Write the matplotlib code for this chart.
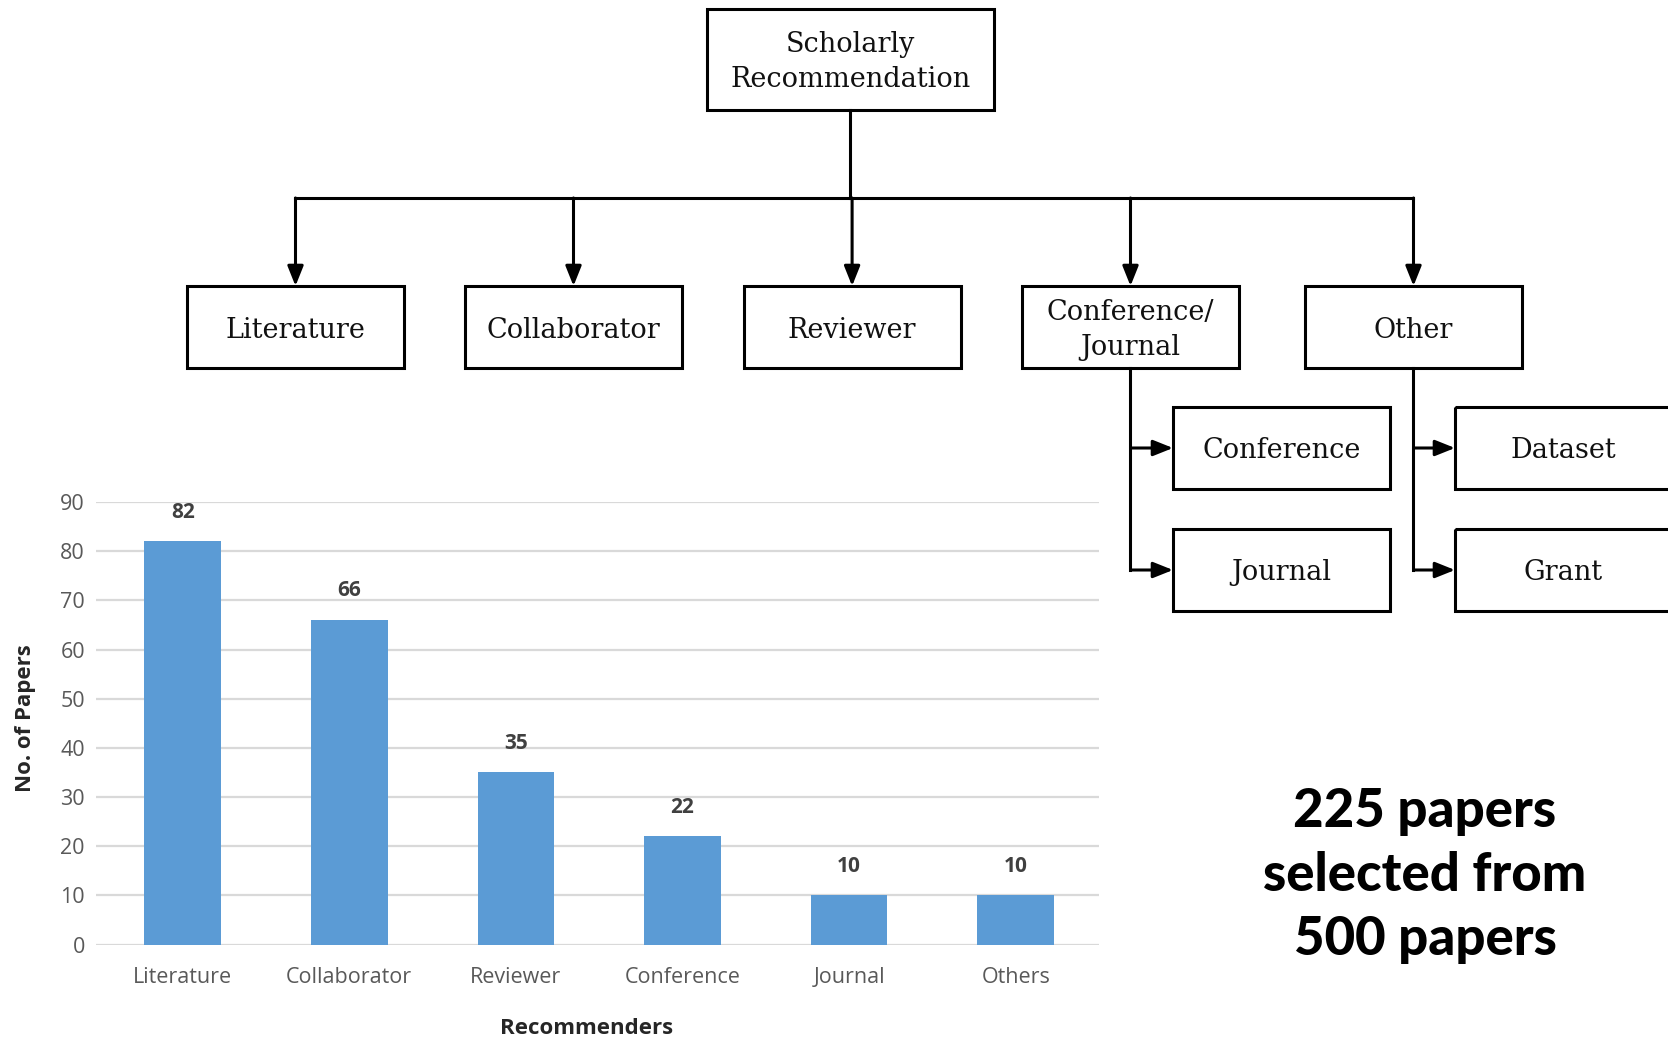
import matplotlib
matplotlib.use("Agg")
import matplotlib.pyplot as plt
from matplotlib.patches import Rectangle

# ---- bar chart data ----
categories = ["Literature", "Collaborator", "Reviewer", "Conference", "Journal", "Others"]
paper_counts = [82, 66, 35, 22, 10, 10]
y_ticks = [0, 10, 20, 30, 40, 50, 60, 70, 80, 90]
x_title = "Recommenders"
y_title = "No. of Papers"

# ---- taxonomy tree labels ----
root_label = "Scholarly\nRecommendation"
level1_labels = ["Literature", "Collaborator", "Reviewer", "Conference/\nJournal", "Other"]
venue_children = ["Conference", "Journal"]
other_children = ["Dataset", "Grant"]
summary_lines = ["225 papers", "selected from", "500 papers"]

BAR_BLUE = "#5B9BD5"
GRID_GREY = "#D9D9D9"
TICK_GREY = "#595959"

W, H = 1668, 1038
fig = plt.figure(figsize=(W / 100, H / 100), dpi=100)
fig.patch.set_facecolor("white")

plt.rcParams["font.family"] = ["Open Sans", "DejaVu Sans"]

# ---------------- bar chart ----------------
ax = fig.add_axes([96 / W, 1 - 944.6 / H, (1099 - 96) / W, (944.6 - 502) / H])
xpos = list(range(len(categories)))
bars = ax.bar(xpos, paper_counts, width=0.46, color=BAR_BLUE, zorder=3)
ax.set_xlim(-0.52, 5.5)
ax.set_ylim(0, 90)
ax.set_yticks(y_ticks)
ax.set_xticks(xpos)
ax.set_xticklabels(categories)
ax.tick_params(axis="both", length=0, labelsize=15.5, colors=TICK_GREY)
ax.tick_params(axis="y", pad=8)
ax.tick_params(axis="x", pad=16)
ax.yaxis.grid(True, color=GRID_GREY, linewidth=1.6, zorder=0)
ax.set_axisbelow(True)
for s in ax.spines.values():
    s.set_visible(False)
ax.set_facecolor("none")

for rect, v in zip(bars, paper_counts):
    ax.annotate(str(v), xy=(rect.get_x() + rect.get_width() / 2, v),
                xytext=(0, 21), textcoords="offset points",
                ha="center", va="center", fontsize=15, fontweight="bold",
                color="#404040")

span_x = 1099 - 96
span_y = 944.6 - 502
ax.set_xlabel(x_title, fontsize=16, fontweight="bold", color="#262626")
ax.xaxis.set_label_coords((587 - 96) / span_x, -(1018 - 944.6) / span_y)
ax.set_ylabel(y_title, fontsize=16, fontweight="bold", color="#262626")
ax.yaxis.set_label_coords(-(96 - 36) / span_x, (944.6 - 718) / span_y)

# ---------------- taxonomy tree (pixel coordinates) ----------------
tree = fig.add_axes([0, 0, 1, 1])
tree.set_xlim(0, W)
tree.set_ylim(H, 0)
tree.axis("off")
tree.patch.set_alpha(0)

LW = 2.2
SERIF = dict(family="DejaVu Serif", fontsize=19.5, color="#111111",
             ha="center", va="center", linespacing=1.4)


def box(x0, x1, y0, y1, label):
    tree.add_patch(Rectangle((x0, y0), x1 - x0, y1 - y0, fill=False,
                             edgecolor="black", linewidth=LW, clip_on=False))
    tree.text((x0 + x1) / 2, (y0 + y1) / 2 + 3, label, **SERIF)


def arrow(x0, y0, x1, y1):
    tree.annotate("", xy=(x1, y1), xytext=(x0, y0),
                  arrowprops=dict(arrowstyle="-|>,head_length=0.8,head_width=0.32",
                                  mutation_scale=15, color="black", lw=LW,
                                  shrinkA=0, shrinkB=0))


# root
box(707, 994, 8.5, 109.6, root_label)
bus_y = 198
level1_x = [(187, 404), (465, 682), (743.6, 960.6), (1022, 1239), (1305, 1522)]
centers = [(a + b) / 2 for a, b in level1_x]
tree.plot([850.5, 850.5], [109.6, bus_y], color="black", lw=LW)
tree.plot([centers[0], centers[-1]], [bus_y, bus_y], color="black", lw=LW)
for (a, b), lab in zip(level1_x, level1_labels):
    c = (a + b) / 2
    arrow(c, bus_y, c, 286)
    box(a, b, 286, 368, lab)

# second-level branches
child_rows = [(407, 489), (529, 611)]
branch_specs = [(centers[3], (1173, 1390), venue_children),
                (centers[4], (1455, 1672), other_children)]
for px, (bx0, bx1), kids in branch_specs:
    mids = [(r0 + r1) / 2 for r0, r1 in child_rows]
    tree.plot([px, px], [368, mids[-1]], color="black", lw=LW)
    for (r0, r1), m, lab in zip(child_rows, mids, kids):
        arrow(px, m, bx0, m)
        box(bx0, bx1, r0, r1, lab)

# summary note
for yy, line in zip([811.5, 875.5, 939.5], summary_lines):
    tree.text(1425, yy, line, family="Lato", fontweight=900, fontsize=38,
              color="black", ha="center", va="center")

fig.savefig("out.png", dpi=100, facecolor="white")
